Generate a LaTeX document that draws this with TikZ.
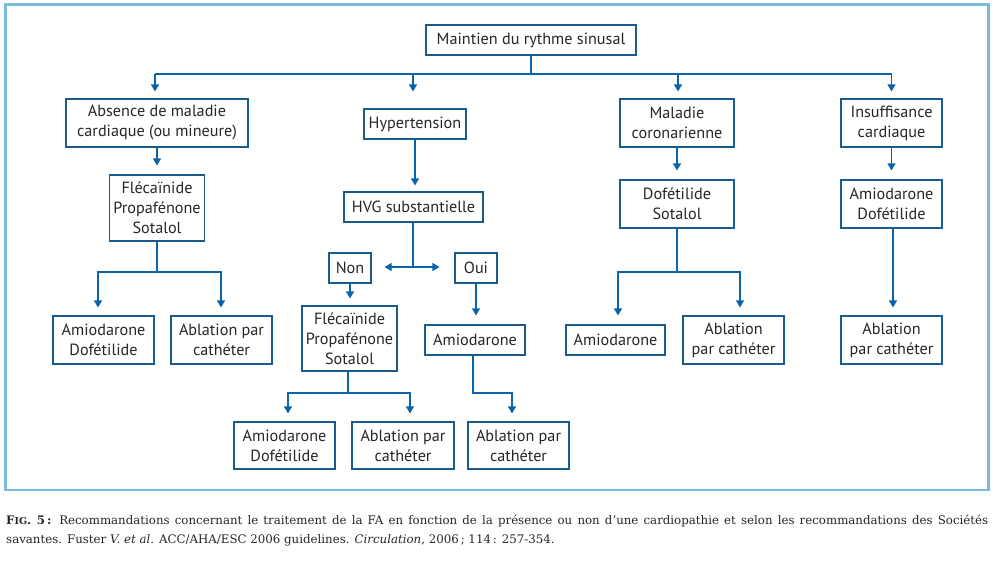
\documentclass[tikz,border=0pt]{standalone}
\usepackage{fontspec}
\newfontfamily\boxfont{PT Sans}
\newfontfamily\capfont{DejaVu Serif}
\usetikzlibrary{arrows.meta}
\definecolor{framec}{RGB}{122,186,218}
\definecolor{boxc}{RGB}{25,92,140}
\definecolor{arrc}{RGB}{10,100,172}
\begin{document}
\begin{tikzpicture}[x=1pt,y=-1pt,
  bx/.style={draw=boxc, line width=1.1pt, inner sep=0pt, align=center,
    font=\boxfont\fontsize{16.2}{20}\selectfont, text=black!85},
  ln/.style={draw=arrc, line width=1.1pt},
  arr/.style={ln, -{Triangle[width=8pt,length=7pt]}},
  darr/.style={ln, {Triangle[width=8pt,length=7pt]}-{Triangle[width=8pt,length=7pt]}},
  captxt/.style={anchor=base west, inner sep=0pt, font=\capfont\fontsize{11.8}{19}\selectfont, text=black!85}]
\useasboundingbox (0,0) rectangle (995,562);
\draw[framec, line width=2.5pt] (5.5,4.5) rectangle (988.5,490);
% boxes
\node[bx, minimum width=210pt, minimum height=30pt] (top) at (531,40) {Maintien du rythme sinusal};
\node[bx, minimum width=182pt, minimum height=48pt] (abs) at (157,123) {Absence de maladie\\cardiaque (ou mineure)};
\node[bx, minimum width=102pt, minimum height=30pt] (hyp) at (415,124) {Hypertension};
\node[bx, minimum width=114pt, minimum height=48pt] (cor) at (677,123) {Maladie\\coronarienne};
\node[bx, minimum width=101pt, minimum height=48pt] (ins) at (891.5,123) {Insuffisance\\cardiaque};
\node[bx, minimum width=95pt, minimum height=66pt] (fl1) at (157,208) {Flécaïnide\\Propafénone\\Sotalol};
\node[bx, minimum width=139pt, minimum height=30pt] (hvg) at (413.5,207) {HVG substantielle};
\node[bx, minimum width=114pt, minimum height=48pt] (dof) at (677,204) {Dofétilide\\Sotalol};
\node[bx, minimum width=101pt, minimum height=48pt] (amd1) at (891.5,204) {Amiodarone\\Dofétilide};
\node[bx, minimum width=101pt, minimum height=48pt] (a1) at (103.5,340) {Amiodarone\\Dofétilide};
\node[bx, minimum width=101pt, minimum height=48pt] (ab1) at (221.5,340) {Ablation par\\cathéter};
\node[bx, minimum width=42pt, minimum height=30pt] (non) at (350,268) {Non};
\node[bx, minimum width=42pt, minimum height=30pt] (oui) at (476,268) {Oui};
\node[bx, minimum width=95pt, minimum height=65pt] (fl2) at (349.5,338.5) {Flécaïnide\\Propafénone\\Sotalol};
\node[bx, minimum width=100pt, minimum height=30pt] (am2) at (475,340) {Amiodarone};
\node[bx, minimum width=101pt, minimum height=47pt] (a2) at (284.5,445.5) {Amiodarone\\Dofétilide};
\node[bx, minimum width=102pt, minimum height=47pt] (ab2) at (403,445.5) {Ablation par\\cathéter};
\node[bx, minimum width=101pt, minimum height=47pt] (ab3) at (518.5,445.5) {Ablation par\\cathéter};
\node[bx, minimum width=99pt, minimum height=30pt] (am3) at (615.5,340) {Amiodarone};
\node[bx, minimum width=101pt, minimum height=48pt] (ab4) at (733.5,340) {Ablation\\par cathéter};
\node[bx, minimum width=101pt, minimum height=48pt] (ab5) at (891.5,340) {Ablation\\par cathéter};
% top bus
\coordinate (bus) at (531,74);
\draw[ln] (top.south) -- (bus);
\draw[ln] ([xshift=-2pt]abs.north |- bus) -- (ins.north |- bus);
\draw[arr] ([xshift=-2pt]abs.north |- bus) -- ([xshift=-2pt,yshift=7pt]abs.north);
\draw[arr] ([xshift=-2pt]hyp.north |- bus) -- ([xshift=-2pt,yshift=17pt]hyp.north);
\draw[arr] ([xshift=1pt]cor.north |- bus) -- ([xshift=1pt,yshift=7pt]cor.north);
\draw[arr] (ins.north |- bus) -- ([yshift=7pt]ins.north);
% second level
\draw[arr] (abs.south) -- ([yshift=9pt]fl1.north -| abs.south);
\draw[arr] (hyp.south) -- ([yshift=6pt]hvg.north -| hyp.south);
\draw[arr] (cor.south) -- ([yshift=9pt]dof.north);
\draw[arr] (ins.south) -- ([yshift=9pt]amd1.north);
% fl1 branch
\coordinate (j1) at (157,272);
\draw[ln] (fl1.south) -- (j1);
\draw[arr] (j1) -| ([xshift=-5.5pt,yshift=8pt]a1.north);
\draw[arr] (j1) -| ([xshift=-0.5pt,yshift=8pt]ab1.north);
% hvg branch
\coordinate (j2) at (413,267);
\draw[ln] (hvg.south -| j2) -- (j2);
\draw[darr] ([xshift=13pt]non.east |- j2) -- ([xshift=-15pt]oui.west |- j2);
\draw[arr] (non.south) -- ([yshift=7pt]fl2.north -| non.south);
\draw[arr] (oui.south) -- ([yshift=9pt]am2.north -| oui.south);
% fl2 branch
\coordinate (j3) at (348,393);
\draw[ln] (fl2.south -| j3) -- (j3);
\draw[arr] (j3) -| ([xshift=3.5pt,yshift=8pt]a2.north);
\draw[arr] (j3) -| ([xshift=7pt,yshift=8pt]ab2.north);
% am2 branch
\coordinate (j4) at (473,393);
\draw[arr] (am2.south -| j4) -- (j4) -| ([xshift=-6.5pt,yshift=8pt]ab3.north);
% dof branch
\coordinate (j5) at (677,272);
\draw[ln] (dof.south) -- (j5);
\draw[arr] (j5) -| ([xshift=2.5pt,yshift=9pt]am3.north);
\draw[arr] (j5) -| ([xshift=6.5pt,yshift=8pt]ab4.north);
% amd1 branch
\draw[arr] ([xshift=1.5pt]amd1.south) -- ([xshift=1.5pt,yshift=8pt]ab5.north);
% caption
\node[captxt] (cap1) at (6,524)
  {\makebox[982pt][s]{\textbf{F{\fontsize{9.5}{19}\selectfont IG}. 5\,:} Recommandations concernant le traitement de la FA en fonction de la présence ou non d’une cardiopathie et selon les recommandations des Sociétés}};
\node[captxt] (cap2) at (6,543)
  {savantes. Fuster \textit{V. et al.} ACC/AHA/ESC 2006 guidelines. \textit{Circulation}, 2006\,; 114\,: 257-354.};
\end{tikzpicture}
\end{document}
